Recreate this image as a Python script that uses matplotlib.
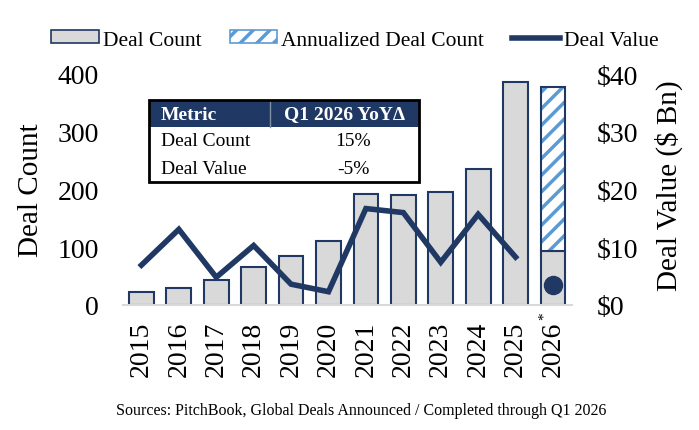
import matplotlib
matplotlib.use('Agg')
import matplotlib.pyplot as plt
from matplotlib.patches import Patch, Rectangle
from matplotlib.lines import Line2D
import matplotlib.transforms as mtransforms

# data
years = ["2015", "2016", "2017", "2018", "2019", "2020",
         "2021", "2022", "2023", "2024", "2025", "2026"]
deal_count = [23, 29, 44, 65, 85, 110, 192, 190, 195, 236, 386, 93]
annualized_total = 378          # 2026 annualized deal count
deal_value = [6.9, 13.1, 4.8, 10.3, 3.6, 2.3, 16.7, 16.0, 7.4, 15.7, 8.3]
deal_value_2026 = 3.5

table_header = ["Metric", "Q1 2026 YoY\u0394"]
table_rows = [["Deal Count", "15%"], ["Deal Value", "-5%"]]
source_note = "Sources: PitchBook, Global Deals Announced / Completed through Q1 2026"

NAVY = "#203864"
GRAY = "#d9d9d9"
BLUE = "#5b9bd5"

plt.rcParams['font.family'] = ['Liberation Serif', 'DejaVu Serif']
plt.rcParams['hatch.linewidth'] = 2.5

W, H = 699, 431


def fx(x):
    return x / W


def fy(y):
    return 1 - y / H


fig = plt.figure(figsize=(W / 100, H / 100), dpi=100)
ax = fig.add_axes([fx(122.7), fy(306), 449 / W, 231 / H])
x = list(range(len(years)))

# bars
ax.bar(x, deal_count, width=0.66, color=GRAY, edgecolor=NAVY, linewidth=1.5, zorder=2)
ann_height = annualized_total - deal_count[-1]
ax.bar(x[-1], ann_height, bottom=deal_count[-1], width=0.66, color="white",
       edgecolor=BLUE, hatch="//", linewidth=0, zorder=2)
ax.bar(x[-1], ann_height, bottom=deal_count[-1], width=0.66, color="none",
       edgecolor=NAVY, linewidth=1.5, zorder=3)

ax.set_xlim(-0.5, 11.5)
ax.set_ylim(0, 400)
ax.set_yticks([0, 100, 200, 300, 400])
ax.set_xticks(x)
ax.set_xticklabels(years, rotation=90, fontsize=20)
ax.tick_params(axis='y', length=0, pad=17, labelsize=20)
ax.tick_params(axis='x', length=0, pad=11.5)
for s in ["top", "left", "right"]:
    ax.spines[s].set_visible(False)
ax.spines["bottom"].set_color(GRAY)
ax.spines["bottom"].set_linewidth(1.5)

# asterisk on 2026
trans = mtransforms.blended_transform_factory(ax.transData, ax.transAxes)
ax.text(x[-1] - 0.22, -0.045, "*", transform=trans, rotation=90, fontsize=11,
        ha="center", va="center")

# deal value line
ax2 = ax.twinx()
ax2.plot(x[:-1], deal_value, color=NAVY, linewidth=4, solid_joinstyle="miter", zorder=4)
ax2.plot(x[-1], deal_value_2026, "o", color=NAVY, markersize=13, zorder=4)
ax2.set_ylim(0, 40)
ax2.set_yticks([0, 10, 20, 30, 40])
ax2.set_yticklabels(["\\$%d" % v for v in [0, 10, 20, 30, 40]])
ax2.tick_params(axis='y', length=0, pad=18, labelsize=20)
for s in ["top", "left", "right", "bottom"]:
    ax2.spines[s].set_visible(False)

fig.text(fx(31), fy(190), "Deal Count", rotation=90, fontsize=21, ha="center", va="center")
fig.text(fx(669), fy(186), "Deal Value (\\$ Bn)", rotation=90, fontsize=21, ha="center", va="center")

# table
tl, tr, tt, tb = 149.3, 419.3, 101, 183.3
t_mid = 270
hdr_b = 127.7
fig.patches.append(Rectangle((fx(tl), fy(tb)), fx(tr - tl), (tb - tt) / H, transform=fig.transFigure,
                             facecolor="white", edgecolor="none", zorder=5))
fig.patches.append(Rectangle((fx(tl), fy(hdr_b)), fx(tr - tl), (hdr_b - tt) / H, transform=fig.transFigure,
                             facecolor=NAVY, edgecolor="none", zorder=6))
fig.lines.append(Line2D([fx(t_mid), fx(t_mid)], [fy(hdr_b), fy(tt)], transform=fig.transFigure,
                        color="#7f8fa6", linewidth=1, zorder=7))
fig.patches.append(Rectangle((fx(tl), fy(tb)), fx(tr - tl), (tb - tt) / H, transform=fig.transFigure,
                             facecolor="none", edgecolor="black", linewidth=2, zorder=8))
fig.text(fx(160.7), fy(115), table_header[0], color="white", fontsize=14, fontweight="bold",
         ha="left", va="center", zorder=9)
fig.text(fx(345), fy(115), table_header[1], color="white", fontsize=14, fontweight="bold",
         ha="center", va="center", zorder=9)
row_y = [142, 169]
for (name, val), yy in zip(table_rows, row_y):
    fig.text(fx(160.7), fy(yy), name, fontsize=14, ha="left", va="center", zorder=9)
    fig.text(fx(353), fy(yy), val, fontsize=14, ha="center", va="center", zorder=9)

# legend
handles = [Patch(facecolor=GRAY, edgecolor=NAVY, linewidth=1.2),
           Patch(facecolor="white", edgecolor=BLUE, hatch="//", linewidth=1.2),
           Line2D([0], [0], color=NAVY, linewidth=4)]
fig.legend(handles, ["Deal Count", "Annualized Deal Count", "Deal Value"],
           loc="center", bbox_to_anchor=(fx(355), fy(41)), ncol=3, frameon=False,
           fontsize=15.5, handlelength=2.2, handleheight=0.55, handletextpad=0.2,
           columnspacing=1.3)

fig.text(fx(361), fy(411), source_note, fontsize=11.5, ha="center", va="center")

fig.savefig("out.png", dpi=100)
